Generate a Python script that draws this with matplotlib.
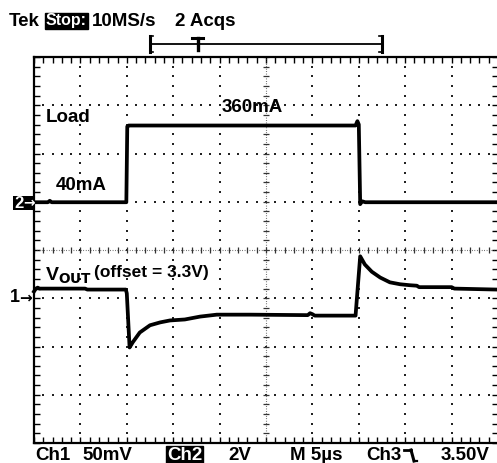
import numpy as np
import matplotlib
matplotlib.use('Agg')
import matplotlib.pyplot as plt
from matplotlib.lines import Line2D
from matplotlib.patches import Rectangle

# --- Data (in screen divisions: x 0..10, y -4..4) ---
load_t = [0.0, 0.3, 0.34, 0.38, 1.99, 2.01, 2.04, 6.93, 6.97, 7.0, 7.03, 7.07, 7.14, 10.0]
load_v = [0.99, 0.99, 1.02, 0.99, 0.99, 2.56, 2.58, 2.58, 2.67, 2.6, 0.95, 1.01, 0.99, 0.99]

vout_t = [0.0, 0.04, 0.08, 0.12, 1.1, 1.15, 1.98, 2.0, 2.06, 2.13, 2.28, 2.5, 2.72, 2.93,
          3.25, 3.58, 3.94, 4.66, 5.9, 5.95, 6.0, 6.05, 6.1, 6.93, 7.03, 7.13, 7.28, 7.46,
          7.67, 7.89, 8.1, 8.25, 8.3, 9.0, 9.06, 9.98, 10.0]
vout_v = [-0.86, -0.8, -0.78, -0.8, -0.8, -0.82, -0.82, -0.9, -2.02, -1.91, -1.71, -1.56,
          -1.5, -1.46, -1.44, -1.38, -1.34, -1.34, -1.35, -1.31, -1.33, -1.36, -1.36, -1.36,
          -0.13, -0.3, -0.45, -0.57, -0.67, -0.71, -0.73, -0.74, -0.77, -0.77, -0.8, -0.82, -0.82]

header = ["Tek", "Stop:", "10MS/s", "2 Acqs"]
footer = ["Ch1", "50mV", "Ch2", "2V", "M 5\u00b5s", "Ch3", "3.50V"]

W, H = 497, 463
FS = 13.5


def px(x, y):
    return x / W, 1 - y / H


plt.rcParams['font.family'] = ['Liberation Sans', 'DejaVu Sans']
fig = plt.figure(figsize=(W / 100, H / 100), dpi=100)
ax = fig.add_axes([34 / W, 20 / H, 464 / W, 386 / H])
ax.set_xlim(0, 10)
ax.set_ylim(-4, 4)

for s in ax.spines.values():
    s.set_linewidth(1.6)
ax.set_xticks(np.arange(0, 10.01, 0.2))
ax.set_yticks(np.arange(-4, 4.01, 0.2))
ax.tick_params(direction='in', length=4, width=1.0, top=True, right=True,
               labelbottom=False, labelleft=False)

# --- graticule dots ---
ydots = np.arange(-4, 4.001, 0.2)
xdots = np.arange(0, 10.001, 0.2)
for gx in range(1, 10):
    if gx == 5:
        continue
    ax.scatter(np.full(len(ydots), gx), ydots, s=2.0, marker='s', color='#222', lw=0)
for gy in range(-3, 4):
    if gy == 0:
        continue
    ax.scatter(xdots, np.full(len(xdots), gy), s=2.0, marker='s', color='#222', lw=0)

# center lines with ticks
ax.plot([0, 10], [0, 0], color='#333', lw=0.8, ls=(0, (0.6, 1.6)))
ax.plot([5, 5], [-4, 4], color='#333', lw=0.8, ls=(0, (0.6, 1.6)))
ax.plot(xdots, np.zeros(len(xdots)), ls='none', marker='|', ms=5, mew=0.9, color='#333')
ax.plot(np.full(len(ydots), 5), ydots, ls='none', marker='_', ms=5, mew=0.9, color='#333')

# --- traces ---
ax.plot(load_t, load_v, color='k', lw=2.7, solid_joinstyle='round', clip_on=False)
ax.plot(vout_t, vout_v, color='k', lw=2.7, solid_joinstyle='round', clip_on=False)

# --- labels on screen ---
lab = dict(fontsize=FS, fontweight='bold', color='k')
fig.text(*px(46, 118), "Load", va='center', ha='left', **lab)
fig.text(*px(222, 108), "360mA", va='center', ha='left', **lab)
fig.text(*px(56, 186), "40mA", va='center', ha='left', **lab)
fig.text(*px(45, 276), r"V$_{\mathbf{OUT}}$", va='center', ha='left', fontsize=14,
         fontweight='bold')
fig.text(*px(94, 273), "(offset = 3.3V)", va='center', ha='left', fontsize=12.5,
         fontweight='bold')

# channel markers
fig.add_artist(Rectangle((13 / W, 1 - 210 / H), 21 / W, 14 / H, transform=fig.transFigure,
                         facecolor='k', edgecolor='none'))
fig.text(*px(14, 203), "2", va='center', ha='left', fontsize=12, fontweight='bold',
         color='white')
fig.text(*px(23, 203), "\u2192", va='center', ha='left', fontsize=10, fontweight='bold',
         color='white', family=['DejaVu Sans'])
fig.text(*px(10, 298), "1", va='center', ha='left', fontsize=13, fontweight='bold')
fig.text(*px(19, 298), "\u2192", va='center', ha='left', fontsize=11, fontweight='bold',
         family=['DejaVu Sans'])

# --- header ---
hd = dict(fontsize=FS, fontweight='bold', va='center', ha='left')
fig.text(*px(9, 21), header[0], **hd)
fig.text(*px(46, 21), header[1], color='white', fontsize=11.5, fontweight='bold',
         va='center', ha='left', bbox=dict(boxstyle='square,pad=0.06', fc='k', ec='k'))
fig.text(*px(92, 21), header[2], **hd)
fig.text(*px(175, 21), header[3], **hd)


# trigger bracket
def fline(xs, ys, lw=1.5):
    fig.add_artist(Line2D([x / W for x in xs], [1 - y / H for y in ys], color='k', lw=lw))


fline([150, 382], [44, 44], lw=1.3)
fline([149.5, 149.5], [36, 52], lw=2.2)
fline([149.5, 153], [36, 36], lw=1.2)
fline([149.5, 153], [52, 52], lw=1.2)
fline([382, 382], [36, 52], lw=2.2)
fline([379, 382], [36, 36], lw=1.2)
fline([379, 382], [52, 52], lw=1.2)
fline([192, 203], [38, 38], lw=2.2)
fline([197.5, 197.5], [38, 50], lw=2.4)

# --- footer ---
ft = dict(fontsize=FS, fontweight='bold', va='center', ha='left')
fig.text(*px(35, 455), footer[0], **ft)
fig.text(*px(82, 455), footer[1], **ft)
fig.text(*px(167, 455), footer[2], color='white',
         bbox=dict(boxstyle='square,pad=0.03', fc='k', ec='k'), **ft)
fig.text(*px(228, 455), footer[3], **ft)
fig.text(*px(290, 455), footer[4], **ft)
fig.text(*px(366, 455), footer[5], **ft)
fig.text(*px(441, 455), footer[6], **ft)
# falling edge symbol
fline([404, 411], [450, 450], lw=2.0)
fline([411, 414], [450, 461], lw=2.2)
fline([414, 417], [461, 461], lw=1.6)

fig.savefig('out.png', dpi=100)
